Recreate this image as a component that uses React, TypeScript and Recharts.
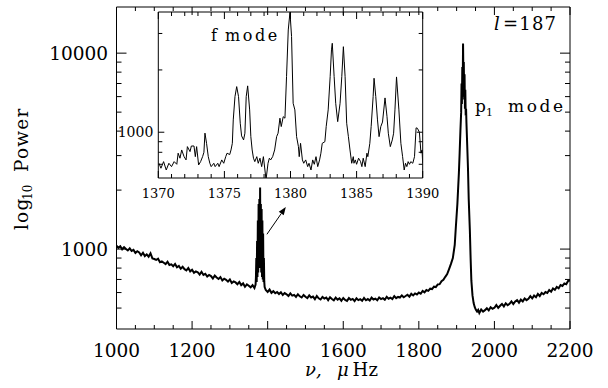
import React from 'react';
import { LineChart, Line, XAxis, YAxis, ReferenceArea, ReferenceLine } from 'recharts';

// ---------- main spectrum (nu in microHz, power) ----------
const mainFreq = [
  1000, 1005, 1010, 1015, 1020, 1025, 1030, 1035, 1040, 1045,
  1050, 1055, 1060, 1065, 1070, 1075, 1080, 1085, 1090, 1095,
  1100, 1105, 1110, 1115, 1120, 1125, 1130, 1135, 1140, 1145,
  1150, 1155, 1160, 1165, 1170, 1175, 1180, 1185, 1190, 1195,
  1200, 1205, 1210, 1215, 1220, 1225, 1230, 1235, 1240, 1245,
  1250, 1255, 1260, 1265, 1270, 1275, 1280, 1285, 1290, 1295,
  1300, 1305, 1310, 1315, 1320, 1325, 1330, 1335, 1340, 1345,
  1350, 1355, 1360, 1365, 1368, 1369, 1370, 1371, 1372, 1373,
  1374, 1375, 1376, 1377, 1378, 1379, 1380, 1381, 1382, 1383,
  1384, 1385, 1386, 1387, 1388, 1389, 1390, 1391, 1392, 1395,
  1400, 1405, 1410, 1415, 1420, 1425, 1430, 1435, 1440, 1445,
  1450, 1455, 1460, 1465, 1470, 1475, 1480, 1485, 1490, 1495,
  1500, 1505, 1510, 1515, 1520, 1525, 1530, 1535, 1540, 1545,
  1550, 1555, 1560, 1565, 1570, 1575, 1580, 1585, 1590, 1595,
  1600, 1605, 1610, 1615, 1620, 1625, 1630, 1635, 1640, 1645,
  1650, 1655, 1660, 1665, 1670, 1675, 1680, 1685, 1690, 1695,
  1700, 1705, 1710, 1715, 1720, 1725, 1730, 1735, 1740, 1745,
  1750, 1755, 1760, 1765, 1770, 1775, 1780, 1785, 1790, 1795,
  1800, 1805, 1810, 1815, 1820, 1825, 1830, 1835, 1840, 1845,
  1850, 1855, 1860, 1865, 1870, 1875, 1880, 1885, 1890, 1895,
  1898, 1902, 1906, 1908, 1910, 1912, 1913, 1914, 1915, 1916,
  1917, 1918, 1919, 1920, 1921, 1922, 1923, 1924, 1925, 1926,
  1928, 1930, 1932, 1935, 1937, 1939, 1942, 1945, 1948, 1951,
  1954, 1957, 1960, 1965, 1970, 1975, 1980, 1985, 1990, 1995,
  2000, 2005, 2010, 2015, 2020, 2025, 2030, 2035, 2040, 2045,
  2050, 2055, 2060, 2065, 2070, 2075, 2080, 2085, 2090, 2095,
  2100, 2105, 2110, 2115, 2120, 2125, 2130, 2135, 2140, 2145,
  2150, 2155, 2160, 2165, 2170, 2175, 2180, 2185, 2190, 2195,
  2200,
];
const mainPower = [
  1040, 1015, 1035, 998, 1022, 1001, 985, 1008, 978, 990,
  955, 975, 962, 930, 958, 921, 940, 915, 952, 896,
  890, 880, 893, 858, 866, 852, 838, 862, 830, 836,
  818, 840, 808, 820, 794, 812, 790, 779, 801, 770,
  785, 757, 770, 762, 741, 766, 738, 748, 724, 738,
  728, 708, 733, 716, 704, 720, 692, 706, 697, 682,
  700, 672, 684, 676, 662, 680, 655, 668, 642, 660,
  650, 638, 655, 633, 660, 720, 900, 680, 1100, 720,
  1400, 760, 1700, 800, 1800, 820, 2060, 800, 1700, 760,
  1600, 720, 1400, 700, 1200, 680, 900, 680, 640, 618,
  604, 621, 598, 610, 595, 604, 590, 602, 583, 596,
  588, 576, 594, 579, 584, 570, 588, 574, 566, 583,
  571, 562, 580, 566, 572, 555, 576, 561, 553, 570,
  559, 566, 549, 568, 556, 548, 565, 552, 560, 545,
  563, 550, 544, 562, 551, 557, 543, 561, 549, 555,
  545, 563, 548, 556, 546, 565, 553, 559, 548, 566,
  556, 562, 551, 571, 558, 565, 556, 576, 562, 570,
  566, 580, 568, 576, 585, 572, 591, 580, 594, 587,
  600, 592, 611, 601, 618, 612, 628, 625, 643, 640,
  660, 662, 686, 697, 722, 745, 790, 840, 900, 1050,
  1300, 1700, 2450, 3100, 4000, 5000, 7000, 5500, 8500, 6000,
  11200, 7500, 9000, 5800, 7800, 5200, 6500, 4800, 5200, 4400,
  3400, 2600, 1800, 1250, 900, 690, 580, 530, 505, 490,
  480, 489, 472, 492, 480, 488, 499, 487, 505, 496,
  502, 518, 501, 514, 525, 510, 529, 517, 526, 541,
  524, 540, 549, 533, 552, 541, 560, 549, 558, 575,
  560, 579, 568, 590, 576, 597, 588, 604, 597, 618,
  606, 630, 620, 641, 631, 655, 648, 668, 662, 688,
  692,
];

// ---------- inset: f mode zoom ----------
const insetFreq = [
  1370.05, 1370.2, 1370.4, 1370.6, 1370.8, 1371.0, 1371.2, 1371.4, 1371.5, 1371.64,
  1371.77, 1371.95, 1372.1, 1372.2, 1372.4, 1372.5, 1372.7, 1372.8, 1372.9, 1373.05,
  1373.2, 1373.35, 1373.45, 1373.53, 1373.65, 1373.78, 1373.9, 1374.0, 1374.2, 1374.3,
  1374.5, 1374.6, 1374.8, 1374.95, 1375.1, 1375.2, 1375.4, 1375.5, 1375.6, 1375.67,
  1375.8, 1375.93, 1376.07, 1376.2, 1376.3, 1376.45, 1376.55, 1376.65, 1376.76, 1376.91,
  1377.0, 1377.1, 1377.2, 1377.3, 1377.45, 1377.56, 1377.69, 1377.82, 1377.95, 1378.15,
  1378.3, 1378.4, 1378.5, 1378.65, 1378.8, 1378.95, 1379.06, 1379.2, 1379.3, 1379.45,
  1379.58, 1379.7, 1379.83, 1379.96, 1380.08, 1380.2, 1380.33, 1380.46, 1380.6, 1380.66,
  1380.76, 1380.9, 1381.0, 1381.15, 1381.3, 1381.4, 1381.55, 1381.68, 1381.8, 1381.93,
  1382.06, 1382.2, 1382.3, 1382.4, 1382.6, 1382.7, 1382.85, 1383.0, 1383.1, 1383.16,
  1383.3, 1383.42, 1383.57, 1383.75, 1383.88, 1384.0, 1384.13, 1384.25, 1384.38, 1384.5,
  1384.63, 1384.75, 1384.8, 1384.9, 1385.0, 1385.15, 1385.3, 1385.4, 1385.5, 1385.65,
  1385.78, 1385.85, 1386.0, 1386.1, 1386.25, 1386.32, 1386.45, 1386.58, 1386.7, 1386.83,
  1386.96, 1387.15, 1387.3, 1387.4, 1387.55, 1387.7, 1387.8, 1387.9, 1388.02, 1388.2,
  1388.35, 1388.48, 1388.6, 1388.7, 1388.8, 1388.9, 1389.0, 1389.1, 1389.25, 1389.38,
  1389.5, 1389.6, 1389.75, 1389.87, 1389.95, 1390.0,
];
const insetPower = [
  708, 670, 721, 657, 708, 682, 721, 700, 792, 749,
  821, 762, 735, 852, 806, 858, 858, 762, 852, 695,
  721, 762, 800, 990, 884, 762, 708, 682, 708, 682,
  708, 682, 735, 708, 762, 792, 780, 821, 884, 1147,
  1486, 1661, 1486, 1105, 960, 918, 989, 1486, 1675, 1282,
  952, 821, 749, 721, 762, 708, 749, 682, 762, 590,
  708, 749, 735, 762, 821, 952, 989, 1169, 1065, 1189,
  1169, 1857, 3120, 3800, 2900, 1380, 1282, 952, 852, 762,
  884, 735, 708, 735, 682, 708, 657, 735, 700, 762,
  682, 735, 792, 884, 900, 1065, 1282, 1857, 2500, 2690,
  1857, 1380, 1125, 1380, 1857, 2590, 1857, 1105, 952, 821,
  708, 762, 708, 735, 700, 749, 721, 682, 749, 682,
  792, 762, 884, 1065, 1486, 1823, 1486, 1147, 952, 1065,
  1120, 1465, 1189, 989, 852, 918, 989, 1282, 1850, 1282,
  884, 762, 657, 708, 682, 721, 700, 721, 708, 762,
  1050, 1045, 1000, 792, 821, 708,
];

// ---------- axes ----------
const mainXDomain = [1000, 2200];
const mainYDomain = [391, 17200];
const mainXTicks = [
  1000, 1050, 1100, 1150, 1200, 1250, 1300, 1350, 1400, 1450, 1500, 1550, 1600,
  1650, 1700, 1750, 1800, 1850, 1900, 1950, 2000, 2050, 2100, 2150, 2200,
];
const mainXLabels = [1000, 1200, 1400, 1600, 1800, 2000, 2200];
const mainYTicks = [500, 600, 700, 800, 900, 1000, 2000, 3000, 4000, 5000, 6000, 7000, 8000, 9000, 10000];
const mainYLabels = [1000, 10000];

const insetXDomain = [1370, 1390];
const insetYDomain = [601, 3810];
const insetXTicks = [
  1370, 1371, 1372, 1373, 1374, 1375, 1376, 1377, 1378, 1379, 1380,
  1381, 1382, 1383, 1384, 1385, 1386, 1387, 1388, 1389, 1390,
];
const insetXLabels = [1370, 1375, 1380, 1385, 1390];
const insetYTicks = [700, 800, 900, 1000, 2000, 3000];
const insetYLabels = [1000];

// arrow from main f-mode peak to inset
const arrowFrom = { f: 1398, p: 1190 };
const arrowTo = { f: 1448, p: 1640 };

const FONT = 'DejaVu Serif';

// main layout
const W = 608, H = 388;
const M = { top: 7, right: 38, bottom: 29, left: 0 };
const MY_W = 116.5, MX_H = 30;
const PL = M.left + MY_W, PR = W - M.right, PT = M.top, PB = H - M.bottom - MX_H;

// inset layout
const IL = 100, IT = 0, IW = 340, IH = 210;
const IM = { top: 12, right: 17.3, bottom: 0, left: 0 };
const IY_W = 58.3, IX_H = 32;
const iPL = IM.left + IY_W, iPR = IW - IM.right, iPT = IM.top, iPB = IH - IM.bottom - IX_H;

const mainData = mainFreq.map((f, i) => ({ f, p: mainPower[i] }));
const insetData = insetFreq.map((f, i) => ({ f, p: insetPower[i] }));

const MainXTick = (props: any) => {
  const { x, payload } = props;
  const v = payload.value;
  const major = mainXLabels.includes(v);
  const len = major ? 8 : 4;
  return (
    <g>
      <line x1={x} x2={x} y1={PB} y2={PB - len} stroke="#000" strokeWidth={1} />
      <line x1={x} x2={x} y1={PT} y2={PT + len} stroke="#000" strokeWidth={1} />
      {major && (
        <text x={x} y={357} textAnchor="middle" fontSize={18.5} fontFamily={FONT} fill="#000">
          {v}
        </text>
      )}
    </g>
  );
};

const MainYTick = (props: any) => {
  const { y, payload } = props;
  const v = payload.value;
  const major = mainYLabels.includes(v);
  const len = major ? 10 : 5;
  return (
    <g>
      <line x1={PL} x2={PL + len} y1={y} y2={y} stroke="#000" strokeWidth={1} />
      <line x1={PR} x2={PR - len} y1={y} y2={y} stroke="#000" strokeWidth={1} />
      {major && (
        <text x={108} y={y + 7} textAnchor="end" fontSize={18.5} fontFamily={FONT} fill="#000">
          {v}
        </text>
      )}
    </g>
  );
};

const InsetXTick = (props: any) => {
  const { x, payload } = props;
  const v = payload.value;
  const major = insetXLabels.includes(v);
  const len = major ? 7 : 4;
  return (
    <g>
      <line x1={x} x2={x} y1={iPB} y2={iPB - len} stroke="#000" strokeWidth={1} />
      <line x1={x} x2={x} y1={iPT} y2={iPT + len} stroke="#000" strokeWidth={1} />
      {major && (
        <text x={x} y={198} textAnchor="middle" fontSize={13} fontFamily={FONT} fill="#000">
          {v}
        </text>
      )}
    </g>
  );
};

const InsetYTick = (props: any) => {
  const { y, payload } = props;
  const v = payload.value;
  const major = insetYLabels.includes(v);
  const len = major ? 6 : 4;
  return (
    <g>
      <line x1={iPL} x2={iPL + len} y1={y} y2={y} stroke="#000" strokeWidth={1} />
      <line x1={iPR} x2={iPR - len} y1={y} y2={y} stroke="#000" strokeWidth={1} />
      {major && (
        <text x={iPL - 5} y={y + 5} textAnchor="end" fontSize={14} fontFamily={FONT} fill="#000">
          {v}
        </text>
      )}
    </g>
  );
};

const ArrowShape = (props: any) => {
  const { x1, y1, x2, y2 } = props;
  const ang = Math.atan2(y2 - y1, x2 - x1);
  const L = 8, Wd = 3;
  const bx = x2 - L * Math.cos(ang), by = y2 - L * Math.sin(ang);
  const px = -Math.sin(ang) * Wd, py = Math.cos(ang) * Wd;
  return (
    <g>
      <line x1={x1} y1={y1} x2={bx} y2={by} stroke="#000" strokeWidth={1} />
      <polygon points={`${x2},${y2} ${bx + px},${by + py} ${bx - px},${by - py}`} fill="#000" />
    </g>
  );
};

export default function App() {
  return (
    <div style={{ position: 'absolute', left: 0, top: 0, width: W, height: H, background: '#fff', overflow: 'hidden' }}>
      <div style={{ position: 'absolute', left: 0, top: 0 }}>
        <LineChart width={W} height={H} data={mainData} margin={M}>
          <XAxis
            dataKey="f"
            type="number"
            domain={mainXDomain}
            allowDataOverflow
            ticks={mainXTicks}
            interval={0}
            tick={MainXTick}
            tickLine={false}
            axisLine={false}
            tickSize={0}
            tickMargin={0}
            height={MX_H}
          />
          <YAxis
            type="number"
            scale="log"
            domain={mainYDomain}
            allowDataOverflow
            ticks={mainYTicks}
            interval={0}
            tick={MainYTick}
            tickLine={false}
            axisLine={false}
            tickSize={0}
            tickMargin={0}
            width={MY_W}
          />
          <ReferenceArea
            x1={mainXDomain[0]}
            x2={mainXDomain[1]}
            y1={mainYDomain[0]}
            y2={mainYDomain[1]}
            fill="none"
            fillOpacity={0}
            stroke="#000"
            strokeWidth={1}
            ifOverflow="visible"
          />
          <Line
            dataKey="p"
            type="linear"
            stroke="#000"
            strokeWidth={2}
            dot={false}
            isAnimationActive={false}
          />
          <ReferenceLine
            segment={[{ x: arrowFrom.f, y: arrowFrom.p }, { x: arrowTo.f, y: arrowTo.p }]}
            shape={ArrowShape}
            ifOverflow="visible"
          />
        </LineChart>
      </div>
      <div style={{ position: 'absolute', left: IL, top: IT }}>
        <LineChart width={IW} height={IH} data={insetData} margin={IM}>
          <XAxis
            dataKey="f"
            type="number"
            domain={insetXDomain}
            allowDataOverflow
            ticks={insetXTicks}
            interval={0}
            tick={InsetXTick}
            tickLine={false}
            axisLine={false}
            tickSize={0}
            tickMargin={0}
            height={IX_H}
          />
          <YAxis
            type="number"
            scale="log"
            domain={insetYDomain}
            allowDataOverflow
            ticks={insetYTicks}
            interval={0}
            tick={InsetYTick}
            tickLine={false}
            axisLine={false}
            tickSize={0}
            tickMargin={0}
            width={IY_W}
          />
          <ReferenceArea
            x1={insetXDomain[0]}
            x2={insetXDomain[1]}
            y1={insetYDomain[0]}
            y2={insetYDomain[1]}
            fill="none"
            fillOpacity={0}
            stroke="#000"
            strokeWidth={1}
            ifOverflow="visible"
          />
          <Line
            dataKey="p"
            type="linear"
            stroke="#000"
            strokeWidth={1}
            dot={false}
            isAnimationActive={false}
          />
        </LineChart>
      </div>
      <svg
        width={W}
        height={H}
        style={{ position: 'absolute', left: 0, top: 0, pointerEvents: 'none' }}
        fontFamily={FONT}
        fill="#000"
      >
        <text x={211} y={40.7} fontSize={16}>f</text>
        <text x={225} y={40.7} fontSize={16} letterSpacing={2.6}>mode</text>
        <text x={494} y={30} fontSize={18} fontStyle="italic">l</text>
        <text x={503} y={30} fontSize={18} letterSpacing={1.2}>=187</text>
        <text x={475} y={112} fontSize={17}>p</text>
        <text x={486} y={116} fontSize={11}>1</text>
        <text x={508} y={112} fontSize={17} letterSpacing={2.6}>mode</text>
        <text x={305} y={376} fontSize={18} fontStyle="italic">ν,</text>
        <text x={337} y={376} fontSize={18} fontStyle="italic">μ</text>
        <text x={352.5} y={376} fontSize={18} letterSpacing={0.3}>Hz</text>
        <g transform="rotate(-90)">
          <text x={-230} y={28} fontSize={18.5} letterSpacing={1.2}>log</text>
          <text x={-200} y={32} fontSize={12}>10</text>
          <text x={-172} y={28} fontSize={18.5} letterSpacing={1.2}>Power</text>
        </g>
      </svg>
    </div>
  );
}
